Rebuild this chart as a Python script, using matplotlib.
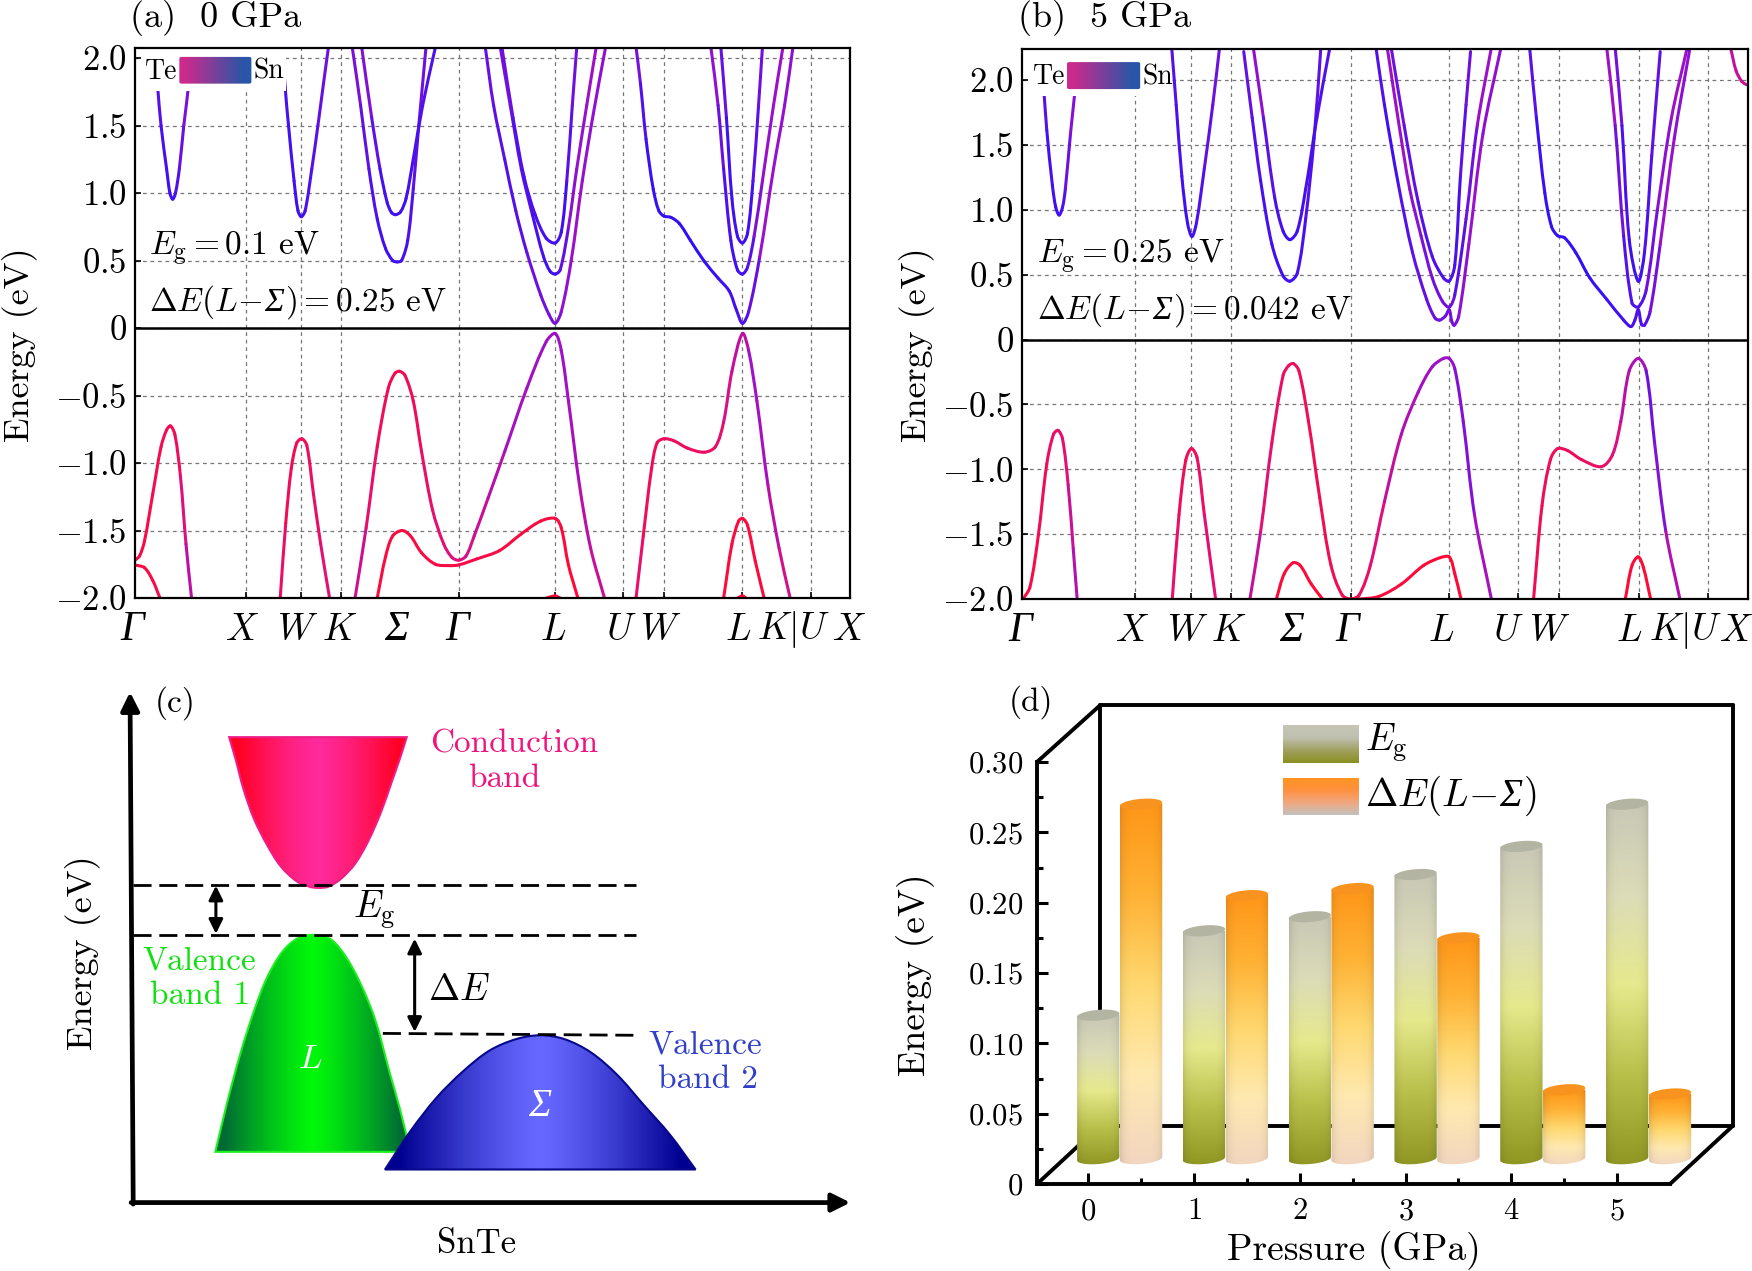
import matplotlib
matplotlib.use('Agg')
import matplotlib.pyplot as plt
import numpy as np
from matplotlib.collections import PathCollection
from matplotlib.colors import LinearSegmentedColormap, to_rgb
from matplotlib.patches import Polygon, PathPatch, FancyBboxPatch, Rectangle
from matplotlib.path import Path

plt.rcParams['font.family'] = ['cmr10', 'DejaVu Serif']
plt.rcParams['mathtext.fontset'] = 'cm'
plt.rcParams['axes.formatter.use_mathtext'] = True

W, H = 1752, 1271
FS = 25

# k path positions shared by both band plots
k_grid = [200, 300, 371, 584, 758, 881, 954, 1096, 1219]
k_end = 1290
k_names = ['G', 'X', 'W', 'K', 'S', 'G', 'L', 'U', 'W', 'L', 'K|U', 'X']
k_label_pos_a = [-6, 193, 294, 369, 472, 581, 754, 877, 949, 1088, 1187, 1288]
k_label_pos_b = [-4, 195, 294, 368, 479, 578, 745, 864, 938, 1079, 1179, 1268]
e_ticks = [-2, -1.5, -1, -0.5, 0, 0.5, 1, 1.5, 2]
e_labels = ['$-2.0$', '$-1.5$', '$-1.0$', '$-0.5$', '$0$', '$0.5$', '$1.0$', '$1.5$', '$2.0$']

# bands at 0 GPa: (k, E, colour weights 0=red 1=blue)
bands_a = [
    ([35, 41, 47, 57, 63, 68, 73, 80, 88, 97, 102], [2.08, 1.78, 1.5, 1.18, 1.0, .955, 1.0, 1.18, 1.5, 1.81, 2.08], [.8, .95, .7]),
    ([266, 271, 277, 287, 294, 300, 307, 319, 330, 340, 349], [2.08, 1.78, 1.5, 1.09, .87, .825, .87, 1.18, 1.5, 1.81, 2.08], [.9, .95, .8]),
    ([392, 407, 422, 437, 452, 465, 473, 481, 492, 502, 512, 525], [2.08, 1.65, 1.18, .81, .59, .5, .49, .5, .65, 1.03, 1.5, 2.08], [.7, .95, .8]),
    ([409, 427, 442, 455, 463, 470, 479, 489, 502, 519, 542], [2.08, 1.56, 1.18, .93, .855, .84, .86, .96, 1.25, 1.65, 2.08], [.6, .95, .9]),
    ([632, 647, 667, 687, 707, 732, 747, 758, 769, 787, 807, 827, 849], [2.08, 1.65, 1.25, .87, .56, .245, .1, .035, .12, .5, 1.09, 1.59, 2.08], [.8, .9, .65, .7]),
    ([659, 677, 697, 717, 737, 749, 758, 767, 782, 797, 815, 832], [2.08, 1.65, 1.18, .84, .53, .42, .40, .43, .745, 1.18, 1.65, 2.08], [.7, .8, .95, .7, .65]),
    ([662, 682, 702, 722, 742, 758, 769, 779, 789, 797], [2.08, 1.56, 1.12, .84, .665, .63, .71, 1.09, 1.65, 2.08], [.7, .9, .95, .8]),
    ([904, 912, 922, 935, 945, 954, 967, 982, 1002, 1027, 1052, 1072, 1085, 1096, 1107, 1127, 1152, 1172, 1187],
     [2.08, 1.81, 1.4, 1.03, .87, .83, .82, .775, .65, .495, .37, .275, .135, .035, .12, .525, 1.18, 1.65, 2.08], [.7, .95, 1, .85, .65, .7]),
    ([1039, 1052, 1062, 1075, 1087, 1096, 1105, 1117, 1132, 1152, 1169], [2.08, 1.65, 1.18, .65, .43, .40, .45, .68, 1.09, 1.65, 2.08], [.6, .8, .95, .7, .65]),
    ([1057, 1067, 1077, 1087, 1096, 1105, 1115, 1125, 1132], [2.08, 1.56, .96, .68, .63, .70, 1.09, 1.65, 2.08], [.7, .95, .95, .8]),
    ([0, 8, 17, 32, 47, 57, 64, 72, 82, 92, 102], [-1.72, -1.69, -1.58, -1.23, -.88, -.755, -.725, -.79, -1.1, -1.6, -2], [.08, .1, .22, .5]),
    ([0, 17, 32, 45], [-1.755, -1.775, -1.87, -2], [.05, .08]),
    ([262, 272, 282, 292, 301, 310, 322, 335, 351], [-2, -1.445, -1.04, -.85, -.82, -.87, -1.23, -1.6, -2], [.3, .15, .3]),
    ([397, 417, 437, 457, 469, 477, 487, 502, 517, 537, 557, 572, 584, 597, 612, 637, 667, 707, 742, 758, 769, 782, 802, 822, 847],
     [-2, -1.48, -.88, -.445, -.335, -.32, -.35, -.54, -.915, -1.35, -1.6, -1.7, -1.72, -1.69, -1.54, -1.26, -.915, -.445, -.1, -.04, -.165, -.54, -1.165, -1.63, -2],
     [.6, .3, .15, .2, .4, .6, .65, .6, .45]),
    ([437, 452, 465, 482, 497, 517, 542, 567, 584, 617, 657, 697, 732, 758, 769, 782, 799],
     [-2, -1.695, -1.54, -1.5, -1.54, -1.665, -1.75, -1.76, -1.755, -1.71, -1.65, -1.525, -1.43, -1.41, -1.48, -1.755, -2], [.05, .05, .1, .05, 0]),
    ([742, 758, 767], [-2, -1.985, -2], [0, 0]),
    ([904, 917, 932, 942, 954, 972, 997, 1027, 1047, 1062, 1077, 1096, 1107, 1122, 1142, 1162, 1182],
     [-2, -1.54, -1.04, -.85, -.82, -.835, -.89, -.92, -.88, -.695, -.32, -.04, -.165, -.54, -1.165, -1.63, -2], [.45, .15, .2, .4, .65, .6, .4]),
    ([1062, 1077, 1089, 1096, 1105, 1119, 1135], [-2, -1.6, -1.43, -1.41, -1.46, -1.725, -2], [.02, .05, .02]),
    ([1087, 1096, 1102], [-2, -1.985, -2], [0, 0]),
]

# bands at 5 GPa
bands_b = [
    ([32, 39, 44, 54, 60, 66, 72, 77, 86, 94, 102], [2.25, 1.91, 1.615, 1.19, 1.02, .96, 1.02, 1.16, 1.58, 1.91, 2.25], [.8, .95, .65]),
    ([144, 150, 187, 224, 229], [2.25, 2.2, 1.95, 2.2, 2.25], [.5, .5]),
    ([266, 274, 284, 294, 302, 310, 324, 339, 351], [2.25, 1.81, 1.26, .90, .795, .90, 1.32, 1.81, 2.25], [.85, .95, .8]),
    ([394, 409, 424, 444, 464, 476, 489, 504, 519, 531], [2.22, 1.71, 1.225, .735, .49, .45, .51, .93, 1.55, 2.25], [.8, .95, .85]),
    ([411, 429, 449, 464, 476, 489, 504, 524, 547], [2.25, 1.71, 1.095, .835, .77, .835, 1.16, 1.71, 2.25], [.55, .95, .9]),
    ([629, 644, 669, 694, 719, 734, 742, 752, 759, 764, 768, 776, 794, 819, 851],
     [2.25, 1.81, 1.19, .67, .31, .165, .15, .18, .23, .135, .11, .18, .735, 1.585, 2.25], [.85, .95, .8, .65, .7]),
    ([649, 669, 689, 709, 729, 747, 759, 769, 789, 809, 834], [2.25, 1.68, 1.16, .80, .475, .295, .25, .345, .93, 1.65, 2.25], [.65, .65, .8, .9, .65]),
    ([656, 679, 704, 729, 749, 759, 769, 779, 789, 797], [2.25, 1.65, 1.06, .64, .475, .45, .575, 1.26, 1.81, 2.22], [.75, .85, .95, .8]),
    ([902, 914, 929, 941, 952, 964, 984, 1009, 1039, 1069, 1082, 1089, 1095, 1101, 1106, 1116, 1134, 1159, 1187],
     [2.25, 1.71, 1.13, .87, .80, .785, .67, .475, .31, .15, .10, .15, .23, .115, .11, .215, .735, 1.55, 2.25], [.75, .95, 1, .85, .65, .7]),
    ([1039, 1054, 1069, 1084, 1095, 1109, 1129, 1154, 1182], [2.25, 1.65, .80, .28, .25, .38, 1.0, 1.71, 2.25], [.55, .7, .9, .75, .65]),
    ([1054, 1066, 1079, 1095, 1106, 1119, 1134], [2.25, 1.65, .77, .45, .67, 1.42, 2.22], [.7, .95, .85]),
    ([1259, 1269, 1279, 1287], [2.25, 2.07, 1.99, 1.965], [.5, .45]),
    ([2, 14, 29, 44, 56, 64, 72, 82, 91, 98], [-2, -1.91, -1.51, -.96, -.73, -.70, -.765, -1.12, -1.61, -2], [.03, .15, .3, .55]),
    ([267, 279, 291, 301, 311, 324, 344], [-2, -1.35, -.93, -.84, -.91, -1.35, -2], [.35, .15, .3]),
    ([405, 424, 444, 464, 474, 482, 492, 509, 529, 549, 569, 584, 599, 619, 644, 674, 704, 729, 749, 759, 769, 784, 804, 834],
     [-2, -1.48, -.795, -.275, -.2, -.185, -.24, -.63, -1.22, -1.74, -1.97, -2, -1.97, -1.74, -1.25, -.73, -.405, -.21, -.145, -.145, -.225, -.63, -1.35, -2],
     [.6, .35, .2, .15, .15, .4, .65, .8, .6]),
    ([452, 466, 482, 494, 514, 534], [-2, -1.805, -1.72, -1.74, -1.885, -2], [0, .03, 0]),
    ([584, 599, 634, 674, 714, 744, 759, 769, 780], [-2, -2, -1.98, -1.885, -1.74, -1.68, -1.675, -1.805, -2], [.05, .03, 0]),
    ([909, 924, 939, 952, 969, 994, 1029, 1049, 1064, 1079, 1095, 1109, 1124, 1144, 1169],
     [-2, -1.28, -.925, -.84, -.855, -.925, -.98, -.89, -.63, -.24, -.145, -.24, -.795, -1.48, -2], [.3, .15, .2, .45, .8, .8, .55]),
    ([1072, 1084, 1095, 1104, 1117], [-2, -1.74, -1.675, -1.755, -2], [0, .02, 0]),
]

# schematic (c) outlines
cb_x = [338, 350, 365, 385, 410, 435, 465, 490, 505, 525, 548, 575, 600, 625, 645, 660, 673]
cb_y = [152, 210, 290, 370, 440, 495, 535, 550, 553, 550, 530, 490, 430, 350, 270, 210, 152]
vb1_x = [312, 335, 360, 385, 410, 440, 470, 500, 530, 560, 590, 615, 640, 660, 680]
vb1_y = [1255, 1120, 990, 880, 790, 720, 685, 678, 690, 740, 820, 910, 1040, 1140, 1255]
vb2_x = [632, 680, 730, 780, 830, 880, 925, 970, 1020, 1070, 1120, 1170, 1218]
vb2_y = [1302, 1200, 1110, 1040, 985, 955, 945, 955, 990, 1050, 1130, 1210, 1302]

# bars (d)
pressure = [0, 1, 2, 3, 4, 5]
eg_values = [0.12, 0.18, 0.19, 0.22, 0.24, 0.27]
de_values = [0.27, 0.205, 0.21, 0.175, 0.067, 0.064]
bar_floor = 0.018

band_cmap = LinearSegmentedColormap.from_list('band', ['#ff0a36', '#e0107a', '#9a10cc', '#3010f8'])
fig = plt.figure(figsize=(W / 100, H / 100), dpi=100)


def px_axes(left, top, right, bottom):
    return fig.add_axes([left / W, 1 - bottom / H, (right - left) / W, (bottom - top) / H])


def px_text(x, y, s, **kw):
    kw.setdefault('fontsize', FS)
    kw.setdefault('ha', 'center')
    kw.setdefault('va', 'center')
    return fig.text(x / W, 1 - y / H, s, **kw)


def chain_text(ax, x, y, parts, fontsize=FS, color='k'):
    # draws pieces next to each other, greek capitals need an italic font cm does not give
    r = fig.canvas.get_renderer()
    px, py = ax.transData.transform((x, y))
    for s, italic in parts:
        kw = dict(family='Liberation Serif', style='italic') if italic else {}
        t = fig.text(px / W, py / H, s, fontsize=fontsize, color=color, ha='left', va='baseline', **kw)
        px = t.get_window_extent(r).x1 + 1


def bezier_pieces(xs, ys, xscale=1.0, yscale=1.0):
    # cubic bezier control points for a smooth curve through the read points
    p = np.column_stack([xs, ys]).astype(float)
    dt = np.hypot(np.diff(p[:, 0]) / xscale, np.diff(p[:, 1]) / yscale)
    dt[dt == 0] = 1e-6
    t = np.concatenate([[0], np.cumsum(dt)])
    m = np.zeros_like(p)
    m[1:-1] = (p[2:] - p[:-2]) / (t[2:] - t[:-2])[:, None]
    m[0] = (p[1] - p[0]) / dt[0]
    m[-1] = (p[-1] - p[-2]) / dt[-1]
    c1 = p[:-1] + m[:-1] * dt[:, None] / 3
    c2 = p[1:] - m[1:] * dt[:, None] / 3
    return p, c1, c2


def smooth_closed_path(xs, ys):
    p, c1, c2 = bezier_pieces(xs, ys)
    verts = [p[0]]
    codes = [Path.MOVETO]
    for i in range(len(p) - 1):
        verts += [c1[i], c2[i], p[i + 1]]
        codes += [Path.CURVE4] * 3
    verts.append(p[0])
    codes.append(Path.CLOSEPOLY)
    return Path(np.array(verts), codes)


def draw_band(ax, k, e, w):
    p, c1, c2 = bezier_pieces(k, e, xscale=320.0)
    codes = [Path.MOVETO, Path.CURVE4, Path.CURVE4, Path.CURVE4]
    paths = [Path(np.array([p[i], c1[i], c2[i], p[i + 1]]), codes) for i in range(len(p) - 1)]
    s = np.cumsum(np.hypot(np.diff(p[:, 0]) / 320, np.diff(p[:, 1])))
    s = s / s[-1]
    col = band_cmap(np.interp(s, np.linspace(0, 1, len(w)), w))
    coll = PathCollection(paths, edgecolors=col, facecolors='none', linewidths=2.2, capstyle='round',
                          transform=ax.transData, zorder=3)
    ax.add_collection(coll, autolim=False)


def band_panel(rect, bands, ytop, title, title_xy, ylab_x, eg_text, de_text, note_y, legend_y, label_pos, key_right):
    ax = px_axes(*rect)
    ax.set_xlim(0, k_end)
    ax.set_ylim(-2, ytop)
    for b in bands:
        draw_band(ax, *b)
    ax.set_xticks(k_grid)
    ax.set_xticklabels([])
    ax.set_yticks(e_ticks)
    ax.set_yticklabels(e_labels, fontsize=FS)
    ax.tick_params(direction='in', length=4, width=1.2, pad=6)
    ax.grid(True, ls=(0, (3, 3)), color='#777777', lw=0.9)
    ax.set_axisbelow(True)
    ax.axhline(0, color='k', lw=1.8, zorder=4)
    for sp in ax.spines.values():
        sp.set_linewidth(1.6)
        sp.set_zorder(5)
    # composition key on a white patch
    y0, y1 = legend_y
    ax.add_patch(Rectangle((12, y0 - .02), key_right - 12, y1 - y0 + .04, fc='w', ec='none', zorder=4))
    grad = np.linspace(0, 1, 128)[None, :, None]
    c1, c2 = np.array(to_rgb('#cc2a8c')), np.array(to_rgb('#2a56a8'))
    img = np.clip((c1 + (c2 - c1) * np.clip(grad * 1.25 - .1, 0, 1)), 0, 1)
    im = ax.imshow(img, extent=(80, 210, y0 + .02, y1 - .02), aspect='auto', zorder=5)
    box = FancyBboxPatch((83, y0 + .04), 124, y1 - y0 - .12, boxstyle='round,pad=3,rounding_size=4',
                         mutation_aspect=.003, transform=ax.transData, fc='none', ec='none')
    ax.add_patch(box)
    im.set_clip_path(box)
    ax.set_xlim(0, k_end)
    ax.set_ylim(-2, ytop)
    ym = (y0 + y1) / 2 - .03
    ax.text(48, ym, 'Te', fontsize=20, ha='center', va='center', zorder=6)
    ax.text(242, ym, 'Sn', fontsize=20, ha='center', va='center', zorder=6)
    fig.canvas.draw()
    chain_text(ax, 26, note_y[0], [(r'$E_{\mathrm{g}}{=}$' + eg_text + ' eV', False)], fontsize=FS - 1)
    chain_text(ax, 26, note_y[1], [(r'$\Delta E(L\!-\!$', False), ('Σ', True), (r'$){=}$' + de_text + ' eV', False)], fontsize=FS - 1)
    # k labels
    tr = ax.get_xaxis_transform()
    for name, x in zip(k_names, label_pos):
        if name in ('G', 'S'):
            ch = 'Γ' if name == 'G' else 'Σ'
            ax.text(x, -.058, ch, transform=tr, family='Liberation Serif', style='italic', fontsize=FS + 5, ha='center', va='center', clip_on=False)
        elif name == 'K|U':
            ax.text(x, -.058, r'$K|U$', transform=tr, fontsize=FS + 2, ha='center', va='center', clip_on=False)
        else:
            ax.text(x, -.058, '$%s$' % name, transform=tr, fontsize=FS + 2, ha='center', va='center', clip_on=False)
    px_text(title_xy[0], title_xy[1], title, ha='left', fontsize=FS + 1)
    px_text(ylab_x, 345, 'Energy (eV)', rotation=90, fontsize=FS + 1)
    return ax


band_panel((135, 48, 850, 598), bands_a, 2.075, '(a)  0 GPa', (130, 18), 20, '0.1', '0.25', (.54, .13), (1.78, 2.08), k_label_pos_a, 272)
band_panel((1022, 49, 1748, 599), bands_b, 2.24, '(b)  5 GPa', (1018, 18), 917, '0.25', '0.042', (.585, .16), (1.90, 2.21), k_label_pos_b, 262)


# panel c
def gradient_shape(ax, xs, ys, edge, centre, line, z=2, lw=1.5):
    xs = np.array(xs, dtype=float)
    ys = np.array(ys, dtype=float)
    path = smooth_closed_path(xs, ys)
    ax.add_patch(PathPatch(path, fc='none', ec=line, lw=lw, zorder=z + .5))
    c_e, c_c = np.array(to_rgb(edge)), np.array(to_rgb(centre))
    u = np.linspace(0, 1, 256)
    f = np.clip(np.abs(2 * u - 1) * 1.1, 0, 1) ** 1.3
    img = (c_c[None, :] * (1 - f[:, None]) + c_e[None, :] * f[:, None])[None, :, :]
    im = ax.imshow(img, extent=(xs.min(), xs.max(), ys.max(), ys.min()), aspect='auto', zorder=z)
    im.set_clip_path(PathPatch(path, transform=ax.transData))


axc = px_axes(50, 680, 880, 1271)
gradient_shape(axc, vb1_x, vb1_y, '#006a35', '#00f70a', '#19f01e')
gradient_shape(axc, cb_x, cb_y, '#ff0022', '#ff2a9c', '#ee1e88')
# blue sits in front of the green one
gradient_shape(axc, vb2_x, vb2_y, '#000090', '#6668ff', '#08088c', z=3)
axc.set_xlim(0, 1566)
axc.set_ylim(1572, 0)
axc.axis('off')
arrow = dict(arrowstyle='-|>,head_width=.55,head_length=1.1', color='k', lw=3.4, shrinkA=0, shrinkB=0)
axc.annotate('', xy=(151, 32), xytext=(157, 1394), arrowprops=arrow)
axc.annotate('', xy=(1510, 1390), xytext=(153, 1390), arrowprops=arrow)
dash = (0, (6.5, 2.8))
axc.plot([157, 1105], [545, 545], color='k', lw=2, ls=dash, zorder=4)
axc.plot([157, 1105], [677, 677], color='k', lw=2, ls=dash, zorder=4)
axc.plot([628, 1105], [940, 945], color='k', lw=2, ls=dash, zorder=4)
dbl = dict(arrowstyle='<|-|>,head_width=.42,head_length=.85', color='k', lw=2.2, shrinkA=0, shrinkB=0)
axc.annotate('', xy=(313, 547), xytext=(313, 675), arrowprops=dbl)
axc.annotate('', xy=(688, 688), xytext=(688, 936), arrowprops=dbl)
axc.text(198, 60, '(c)', fontsize=FS - 1, ha='left', va='center')
axc.text(875, 170, 'Conduction', color='#f0147c', fontsize=FS - 1, ha='center', va='center')
axc.text(857, 262, 'band', color='#f0147c', fontsize=FS - 1, ha='center', va='center')
axc.text(282, 748, 'Valence', color='#10e010', fontsize=FS - 1, ha='center', va='center')
axc.text(284, 838, 'band 1', color='#10e010', fontsize=FS - 1, ha='center', va='center')
axc.text(1237, 970, 'Valence', color='#3040c8', fontsize=FS - 1, ha='center', va='center')
axc.text(1242, 1062, 'band 2', color='#3040c8', fontsize=FS - 1, ha='center', va='center')
axc.text(612, 612, r'$E_{\mathrm{g}}$', fontsize=FS + 2, ha='center', va='center', zorder=6)
axc.text(772, 825, r'$\Delta E$', fontsize=FS + 2, ha='center', va='center')
axc.text(490, 1008, '$L$', color='w', fontsize=FS, ha='center', va='center', zorder=6)
axc.text(924, 1135, 'Σ', color='w', family='Liberation Serif', style='italic', fontsize=FS + 3, ha='center', va='center', zorder=6)
axc.text(62, 725, 'Energy (eV)', rotation=90, fontsize=FS + 1, ha='center', va='center')
axc.text(805, 1500, 'SnTe', fontsize=FS, ha='center', va='center')


# panel d
axd = px_axes(1037, 762, 1670, 1184)
axd.set_xlim(-0.484, 5.5)
axd.set_ylim(0, 0.30)
eg_stops = ['#8f9622', '#b9c04a', '#e6e98c', '#dcdcb8', '#c8c8b6']
de_stops = ['#f2d6c0', '#ffe9b0', '#ffd870', '#ffb235', '#ff9618']
eg_leg = ['#8a9020', '#a0a060', '#c0c0b0', '#c6c6b8']
de_leg = ['#c2c2bc', '#f0a880', '#ff9040', '#ff9420']


def stack_img(stops, n=128):
    # bottom to top colour ramp
    cols = np.array([to_rgb(c) for c in stops])
    u = np.linspace(0, 1, n)
    ramp = np.column_stack([np.interp(u, np.linspace(0, 1, len(stops)), cols[:, i]) for i in range(3)])
    return ramp[::-1]


def cylinder(ax, cx, value, stops, cap):
    a = 0.2
    b = 0.0038
    tilt = 0.0012
    t = np.linspace(np.pi, 2 * np.pi, 40)
    low = np.column_stack([cx + a * np.cos(t), bar_floor + b * np.sin(t) + tilt * np.cos(t)])
    t2 = np.linspace(0, np.pi, 40)
    up = np.column_stack([cx + a * np.cos(t2), value + tilt * np.cos(t2) + b * np.sin(t2)])
    body = np.vstack([low, up])
    ramp = stack_img(stops)
    shade = 1 - .1 * np.abs(np.linspace(-1, 1, 64)) ** 5
    img = ramp[:, None, :] * shade[None, :, None]
    im = ax.imshow(img, extent=(cx - a, cx + a, bar_floor - b - tilt, value), aspect='auto', zorder=3)
    im.set_clip_path(PathPatch(Path(body), transform=ax.transData))
    # the last bar sticks out past the front frame
    im.set_clip_box(fig.bbox)
    tt = np.linspace(0, 2 * np.pi, 60)
    ell = np.column_stack([cx + a * np.cos(tt), value + tilt * np.cos(tt) + b * np.sin(tt)])
    ax.add_patch(Polygon(ell, closed=True, fc=cap, ec='none', zorder=3.2, clip_on=False))


for p, eg, de in zip(pressure, eg_values, de_values):
    cylinder(axd, p + 0.095, eg, eg_stops, '#b4b4a2')
    cylinder(axd, p + 0.5, de, de_stops, '#f7931e')

for x0, y0, y1, stops in [(1.84, .3262, .2995, eg_leg), (1.84, .2882, .2625, de_leg)]:
    axd.imshow(stack_img(stops)[:, None, :], extent=(x0, x0 + .71, y1, y0), aspect='auto', clip_on=False, zorder=4)

axd.set_xlim(-0.484, 5.5)
axd.set_ylim(0, 0.30)
axd.patch.set_alpha(0)
for s in ['top', 'right']:
    axd.spines[s].set_visible(False)
for s in ['left', 'bottom']:
    axd.spines[s].set_linewidth(2.8)
axd.set_xticks(pressure)
axd.set_xticklabels(['$%d$' % p for p in pressure], fontsize=FS - 3)
axd.set_xticks([p + .5 for p in pressure[:-1]], minor=True)
axd.set_yticks([0, .05, .1, .15, .2, .25, .3])
axd.set_yticklabels(['$0$', '$0.05$', '$0.10$', '$0.15$', '$0.20$', '$0.25$', '$0.30$'], fontsize=FS - 3)
axd.set_yticks(np.arange(.025, .3, .05), minor=True)
axd.tick_params(which='major', direction='in', length=8, width=2.2, pad=10)
axd.tick_params(which='minor', direction='in', length=4, width=2.2)
# perspective box around the plot
dx, dy, dy2 = 0.0994, 0.138, 1.134
tf = axd.transAxes
box_lines = [
    ([dx, dx], [dy, dy2]), ([dx, 1 + dx], [dy2, dy2]), ([1 + dx, 1 + dx], [dy2, dy]), ([dx, 1 + dx], [dy, dy]),
    ([0, dx], [0, dy]), ([0, dx], [1, dy2]), ([1, 1 + dx], [0, dy]),
]
for lx, ly in box_lines:
    axd.plot(lx, ly, color='k', lw=2.8, transform=tf, clip_on=False, zorder=1, solid_capstyle='round')
axd.text(1.84 + .78, .3135, r'$E_{\mathrm{g}}$', fontsize=FS + 2, ha='left', va='center', clip_on=False)
fig.canvas.draw()
chain_text(axd, 2.62, .2685, [(r'$\Delta E(L\!-\!$', False), ('Σ', True), (r'$)$', False)], fontsize=FS + 3)
px_text(1031, 702, '(d)', fontsize=FS - 1)
px_text(916, 975, 'Energy (eV)', rotation=90, fontsize=FS + 2)
px_text(1354, 1251, 'Pressure (GPa)', fontsize=FS + 2)

fig.savefig('out.png', dpi=100)
